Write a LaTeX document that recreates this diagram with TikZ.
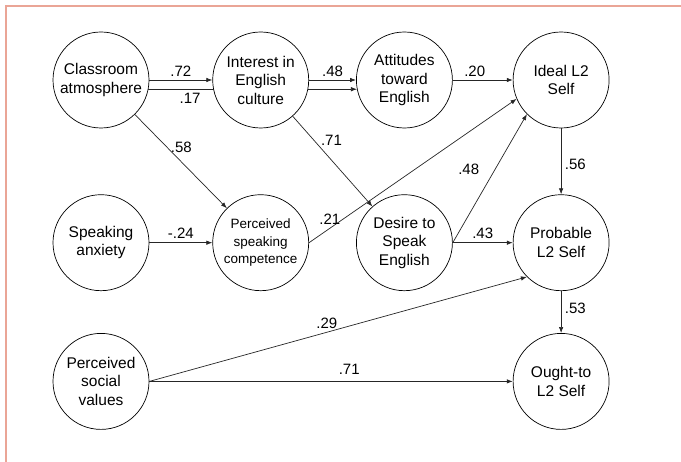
\documentclass[tikz,border=0pt]{standalone}
\usepackage{fontspec}
\setmainfont{Liberation Sans}
\usepackage{tikz}
\usetikzlibrary{positioning,arrows.meta,backgrounds}
\definecolor{framered}{RGB}{234,165,150}
\tikzstyle{construct}=[circle,draw=black,line width=0.7pt,fill=white,minimum size=96,inner sep=0.5,align=center,font=\fontsize{15.5}{18.5}\selectfont]
\tikzstyle{effect}=[draw=black!85,line width=0.7pt,-{Latex[length=6pt,width=4.5pt]}]
\tikzstyle{coef}=[font=\fontsize{15}{17}\selectfont,inner sep=3.5pt]

\begin{document}
\begin{tikzpicture}[x=1pt,y=1pt]

	\useasboundingbox (0,0) rectangle (681,-462);
	\draw[framered, line width=1.5pt] (681,-6) -- (6,-6) -- (6,-462);

	\node[construct] (ca) at (101,-80) {Classroom\\atmosphere};
	\node[construct, right=63pt of ca] (iec) {Interest in\\English\\culture};
	\node[construct, right=47pt of iec] (att) {Attitudes\\toward\\English};
	\node[construct, right=60pt of att] (ideal) {Ideal L2\\Self};

	\node[construct, below=66pt of ca] (sa) {Speaking\\anxiety};
	\node[construct, below=66pt of iec, font=\fontsize{13.5}{17.5}\selectfont] (psc) {Perceived\\speaking\\competence};
	\node[construct, below=66pt of att] (dse) {Desire to\\Speak\\English};
	\node[construct, below=66pt of ideal] (prob) {Probable\\L2 Self};

	\node[construct, below=42pt of sa] (psv) {Perceived\\social\\values};
	\node[construct, below=42pt of prob] (ought) {Ought-to\\L2 Self};

	\begin{scope}[on background layer]
		\draw[effect] (ca.-11) -- node[coef, below, pos=.2] {.17} (att.191);
	\end{scope}

	\draw[effect] (ca) -- node[coef, above] {.72} (iec);
	\draw[effect] (iec) -- node[coef, above] {.48} (att);
	\draw[effect] (att) -- node[coef, above, xshift=-8pt] {.20} (ideal);
	\draw[effect] (ca) -- node[coef, right, pos=.35] {.58} (psc);
	\draw[effect] (iec) -- node[coef, right, pos=.27, xshift=3pt] {.71} (dse);

	\draw[effect] (sa) -- node[coef, above] {-.24} (psc);
	\draw[effect] (psc.east) -- node[coef, above, pos=.1] {.21} (ideal.203);
	\draw[effect] (dse.east) -- node[coef, left=12pt, pos=.57] {.48} (ideal.225);
	\draw[effect] (dse.east) -- node[coef, above] {.43} (prob);
	\draw[effect] (ideal) -- node[coef, right, pos=.55] {.56} (prob);
	\draw[effect] (prob) -- node[coef, right, pos=.4] {.53} (ought);

	\draw[effect] (psv.east) -- node[coef, above, pos=.47] {.29} (prob.225);
	\draw[effect] (psv.east) -- node[coef, above=3pt, pos=.55] {.71} (ought);

\end{tikzpicture}
\end{document}
